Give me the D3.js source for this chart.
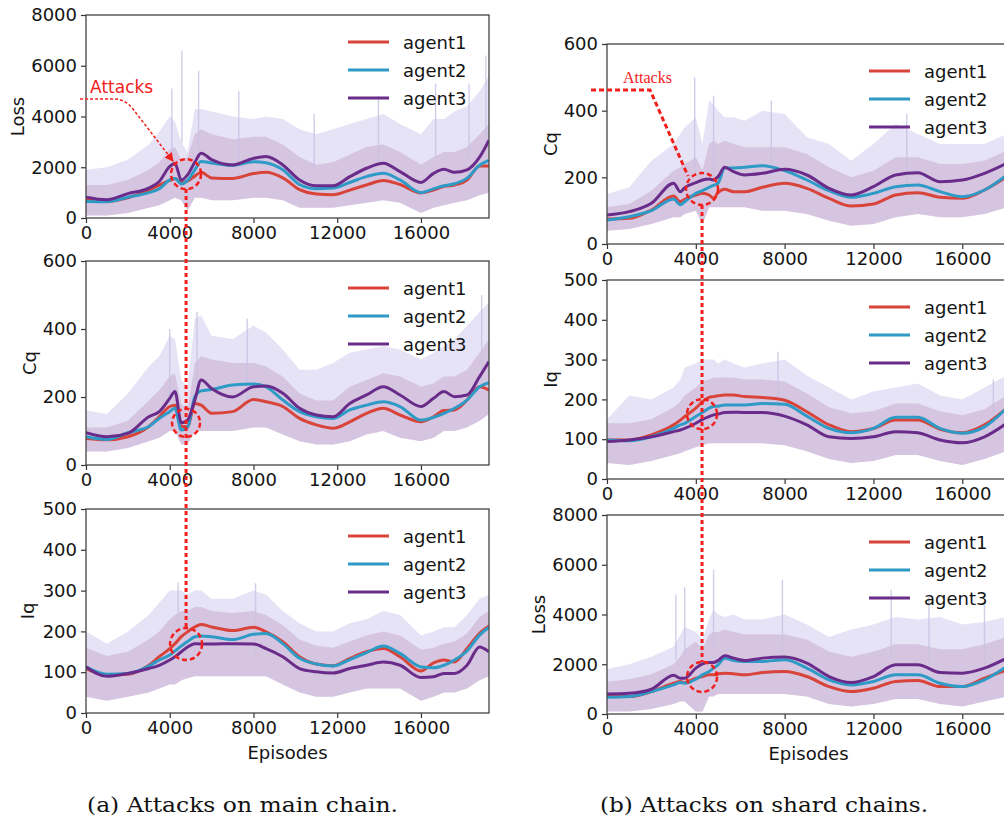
<!DOCTYPE html>
<html>
<head>
<meta charset="utf-8">
<script src="https://cdn.jsdelivr.net/npm/d3@7"></script>
<style>
  body { margin: 0; background: #fff; }
  svg { display: block; font-family: "DejaVu Sans", sans-serif; }
</style>
</head>
<body>
<svg id="chart" width="1004" height="822"></svg>
<script>
// ---------- data ----------

const AGENTS = ["agent1", "agent2", "agent3"];
const X_TICKS = [0, 4000, 8000, 12000, 16000];

// (a) attacks on main chain
const EP_MAIN = [0, 1000, 2000, 3000, 3500, 4000, 4250, 4550, 4850, 5200, 5500, 6000, 7000, 8000, 8600,
  9400, 10200, 11000, 11800, 12600, 13400, 14200, 15000, 16000, 16600, 17100, 17600, 18200, 18800, 19250];

const mainLoss1 = [720, 660, 800, 1100, 1300, 1480, 1560, 1400, 1450, 1650, 1800, 1580, 1560, 1750, 1800,
  1580, 1120, 950, 920, 1100, 1300, 1480, 1320, 990, 1100, 1250, 1300, 1500, 2050, 2050];
const mainLoss2 = [650, 640, 820, 1000, 1150, 1500, 1560, 1340, 1480, 1900, 2230, 2170, 2080, 2220, 2180,
  1900, 1320, 1150, 1180, 1400, 1630, 1760, 1500, 1000, 1150, 1270, 1350, 1570, 2080, 2270];
const mainLoss3 = [820, 720, 960, 1180, 1440, 2030, 2150, 1500, 1700, 2200, 2550, 2300, 2090, 2350, 2420,
  2090, 1500, 1270, 1270, 1630, 1960, 2160, 1830, 1400, 1760, 1920, 1800, 1900, 2400, 3070];
const mainLossHi = [1900, 2000, 2300, 2900, 3400, 4000, 3800, 3000, 2600, 4300, 4300, 4200, 4000, 3900, 4000,
  3900, 3500, 3300, 3500, 3700, 3900, 4100, 3700, 3300, 3900, 3900, 4200, 4400, 5000, 5600];
const mainLossMid = [1300, 1300, 1500, 1900, 2200, 2700, 2800, 2300, 2400, 3300, 3500, 3300, 3100, 3200, 3200,
  2900, 2400, 2100, 2200, 2500, 2800, 2900, 2600, 2100, 2400, 2600, 2600, 2800, 3300, 3700];
const mainLossLo = [100, 100, 200, 400, 500, 700, 800, 700, 300, 800, 800, 700, 700, 800, 800,
  700, 400, 400, 400, 500, 600, 700, 600, 200, 400, 500, 600, 700, 900, 1000];
const mainLossSpikes = [[4100, 5100], [4580, 6600], [5380, 5800], [7300, 5000], [10900, 4100],
  [13970, 4800], [16700, 5300], [18300, 5300], [19100, 6400]];

const mainCq1 = [78, 74, 83, 113, 142, 172, 176, 113, 113, 181, 176, 152, 157, 193, 186,
  172, 137, 118, 108, 127, 152, 167, 147, 127, 142, 160, 162, 191, 230, 220];
const mainCq2 = [83, 75, 95, 113, 137, 157, 167, 103, 111, 201, 218, 222, 235, 238, 230,
  191, 157, 142, 137, 162, 176, 186, 172, 132, 140, 152, 167, 191, 230, 242];
const mainCq3 = [95, 83, 93, 142, 157, 196, 216, 124, 132, 191, 250, 225, 200, 230, 232,
  211, 167, 147, 142, 181, 206, 230, 206, 172, 196, 216, 201, 206, 260, 304];
const mainCqHi = [160, 150, 210, 290, 320, 380, 370, 250, 230, 430, 440, 380, 370, 410, 390,
  340, 280, 280, 300, 330, 340, 350, 340, 310, 330, 350, 370, 410, 450, 480];
const mainCqMid = [110, 110, 130, 190, 220, 260, 270, 180, 160, 300, 320, 310, 300, 300, 290,
  260, 210, 190, 190, 230, 250, 270, 260, 230, 240, 260, 260, 280, 330, 370];
const mainCqLo = [40, 40, 50, 70, 80, 100, 100, 60, 60, 100, 100, 100, 100, 110, 110,
  90, 70, 60, 60, 70, 90, 100, 80, 70, 80, 100, 100, 110, 130, 150];
const mainCqSpikes = [[4000, 400], [5300, 450], [7700, 430], [18900, 500]];

const mainIq1 = [109, 93, 95, 117, 138, 158, 170, 187, 199, 211, 217, 211, 202, 210, 199,
  175, 138, 120, 116, 134, 150, 158, 138, 103, 123, 130, 125, 158, 195, 213];
const mainIq2 = [113, 95, 97, 115, 130, 142, 152, 164, 175, 187, 189, 187, 180, 193, 195,
  170, 134, 120, 115, 131, 148, 164, 146, 113, 111, 117, 130, 152, 191, 210];
const mainIq3 = [113, 90, 97, 109, 117, 130, 138, 150, 162, 170, 169, 169, 170, 169, 158,
  138, 109, 101, 98, 109, 117, 125, 117, 87, 89, 97, 97, 117, 162, 150];
const mainIqHi = [200, 170, 200, 240, 270, 300, 300, 300, 290, 300, 300, 280, 280, 300, 290,
  250, 220, 200, 200, 220, 230, 250, 240, 190, 200, 210, 210, 240, 280, 290];
const mainIqMid = [160, 140, 150, 180, 200, 230, 240, 250, 250, 260, 260, 250, 245, 250, 240,
  215, 180, 165, 160, 175, 190, 200, 190, 155, 160, 170, 175, 195, 235, 250];
const mainIqLo = [40, 30, 40, 50, 60, 70, 70, 80, 85, 90, 90, 90, 90, 90, 90,
  70, 50, 40, 40, 50, 60, 60, 60, 30, 40, 50, 50, 60, 80, 90];
const mainIqSpikes = [[4400, 320], [8100, 318]];

// (b) attacks on shard chains
const EP_SHARD = [0, 1000, 2000, 3000, 3300, 3500, 4000, 4300, 4600, 4800, 5000, 5300, 5700, 6200, 7000,
  8000, 9000, 10000, 11000, 12000, 13000, 14000, 15000, 16000, 17000, 18000];

const shardCq1 = [75, 77, 102, 144, 127, 134, 147, 152, 147, 137, 154, 164, 157, 157, 170,
  182, 167, 137, 114, 120, 147, 154, 140, 137, 162, 202];
const shardCq2 = [72, 82, 100, 135, 118, 127, 152, 160, 170, 176, 182, 228, 228, 230, 235,
  220, 192, 160, 140, 152, 172, 177, 157, 142, 162, 207];
const shardCq3 = [87, 97, 122, 182, 157, 169, 184, 192, 195, 192, 202, 230, 217, 207, 212,
  224, 207, 167, 147, 172, 207, 214, 187, 192, 212, 242];
const shardCqHi = [150, 170, 250, 300, 330, 350, 380, 300, 430, 420, 400, 380, 380, 370, 400,
  390, 320, 300, 250, 300, 360, 330, 300, 300, 300, 330];
const shardCqMid = [110, 120, 160, 220, 230, 240, 260, 220, 300, 310, 300, 310, 300, 290, 290,
  290, 270, 230, 200, 220, 260, 260, 240, 240, 250, 280];
const shardCqLo = [40, 45, 60, 80, 80, 90, 100, 60, 110, 110, 110, 110, 110, 110, 100,
  100, 90, 70, 55, 60, 80, 90, 80, 80, 90, 110];
const shardCqSpikes = [[3950, 500], [4800, 445], [7400, 430], [13500, 390]];

const shardIq1 = [98, 98, 111, 136, 148, 157, 178, 194, 205, 207, 209, 211, 211, 207, 205,
  198, 169, 136, 119, 127, 148, 148, 125, 116, 136, 178];
const shardIq2 = [98, 96, 106, 127, 136, 140, 157, 167, 178, 182, 183, 186, 186, 186, 190,
  188, 158, 127, 116, 127, 155, 155, 127, 115, 131, 178];
const shardIq3 = [94, 98, 106, 119, 123, 127, 140, 150, 157, 161, 163, 167, 168, 167, 167,
  158, 136, 106, 102, 106, 119, 116, 98, 91, 106, 140];
const shardIqHi = [150, 210, 200, 230, 250, 280, 290, 300, 300, 300, 290, 300, 290, 280, 290,
  300, 260, 230, 200, 220, 230, 240, 210, 200, 230, 260];
const shardIqMid = [140, 140, 150, 180, 195, 210, 230, 245, 250, 255, 255, 255, 255, 250, 250,
  245, 215, 180, 165, 170, 190, 190, 170, 160, 175, 210];
const shardIqLo = [40, 35, 45, 60, 65, 70, 80, 85, 90, 90, 90, 90, 90, 90, 90,
  85, 70, 50, 40, 45, 60, 60, 45, 35, 50, 70];
const shardIqSpikes = [[7700, 320], [17400, 250]];

const shardLoss1 = [726, 700, 901, 1237, 1305, 1264, 1439, 1506, 1574, 1574, 1614, 1641, 1614, 1574, 1668,
  1708, 1506, 1103, 901, 1036, 1305, 1345, 1103, 1103, 1439, 1775];
const shardLoss2 = [672, 700, 901, 1170, 1264, 1237, 1399, 1574, 1708, 1843, 1977, 2246, 2152, 2112, 2112,
  2179, 1843, 1372, 1170, 1305, 1574, 1574, 1237, 1103, 1372, 1910];
const shardLoss3 = [807, 834, 995, 1560, 1440, 1440, 1843, 2018, 2071, 2071, 2152, 2340, 2246, 2152, 2246,
  2287, 2044, 1506, 1264, 1506, 1977, 1977, 1668, 1641, 1843, 2246];
const shardLossHi = [1800, 2000, 2300, 2700, 3200, 3500, 3300, 3000, 3800, 4200, 4000, 3900, 4000, 3800, 3800,
  4000, 3600, 3100, 3400, 3600, 3900, 3800, 3900, 3600, 3700, 3900];
const shardLossMid = [1300, 1400, 1600, 2000, 2300, 2600, 2900, 2600, 3200, 3300, 3300, 3400, 3300, 3200, 3200,
  3200, 3000, 2500, 2300, 2500, 2800, 2800, 2600, 2600, 2800, 3100];
const shardLossLo = [100, 100, 200, 400, 500, 500, 100, 100, 700, 700, 800, 800, 800, 800, 800,
  800, 700, 400, 300, 400, 600, 600, 400, 300, 500, 700];
const shardLossSpikes = [[3100, 4800], [3500, 5100], [4800, 5800], [7900, 5400], [12800, 5000],
  [14500, 4700], [17000, 4400]];

// attack markers: episode and the value at each circled point
const mainAttackEp = 4780;
const mainAttackVals = [1730, 124, 169];
const shardAttackEp = 4280;
const shardAttackVals = [165, 163, 1490];

// ---------- styling / layout ----------

const COLORS = ["#d8433a", "#2e9ac6", "#6a2c8a"];
const RED = "#f2201c";

const LEFT = { left: 86, right: 489, xMax: 19250 };
const RIGHT = { left: 607, right: 1010, xMax: 18150 };

const panels = [
  { col: LEFT, top: 15, bottom: 218, ep: EP_MAIN, lines: [mainLoss1, mainLoss2, mainLoss3],
    hi: mainLossHi, mid: mainLossMid, lo: mainLossLo, spikes: mainLossSpikes,
    yMax: 8000, yStep: 2000, label: "Loss", labelX: 17 },
  { col: LEFT, top: 261, bottom: 465, ep: EP_MAIN, lines: [mainCq1, mainCq2, mainCq3],
    hi: mainCqHi, mid: mainCqMid, lo: mainCqLo, spikes: mainCqSpikes,
    yMax: 600, yStep: 200, label: "Cq", labelX: 29 },
  { col: LEFT, top: 509, bottom: 713, ep: EP_MAIN, lines: [mainIq1, mainIq2, mainIq3],
    hi: mainIqHi, mid: mainIqMid, lo: mainIqLo, spikes: mainIqSpikes,
    yMax: 500, yStep: 100, label: "Iq", labelX: 27, xlabel: true },
  { col: RIGHT, top: 44, bottom: 244, ep: EP_SHARD, lines: [shardCq1, shardCq2, shardCq3],
    hi: shardCqHi, mid: shardCqMid, lo: shardCqLo, spikes: shardCqSpikes,
    yMax: 600, yStep: 200, label: "Cq", labelX: 550 },
  { col: RIGHT, top: 280, bottom: 479, ep: EP_SHARD, lines: [shardIq1, shardIq2, shardIq3],
    hi: shardIqHi, mid: shardIqMid, lo: shardIqLo, spikes: shardIqSpikes,
    yMax: 500, yStep: 100, label: "Iq", labelX: 550 },
  { col: RIGHT, top: 515, bottom: 714, ep: EP_SHARD, lines: [shardLoss1, shardLoss2, shardLoss3],
    hi: shardLossHi, mid: shardLossMid, lo: shardLossLo, spikes: shardLossSpikes,
    yMax: 8000, yStep: 2000, label: "Loss", labelX: 538, xlabel: true },
];

const svg = d3.select("#chart");
const defs = svg.append("defs");

defs.append("marker")
  .attr("id", "arrow")
  .attr("viewBox", "0 0 10 10")
  .attr("refX", 9).attr("refY", 5)
  .attr("markerWidth", 6).attr("markerHeight", 6)
  .attr("orient", "auto")
  .append("path")
  .attr("d", "M0,0 L10,5 L0,10 z")
  .attr("fill", RED);

// ---------- panels ----------

function drawPanel(p, i) {
  const c = p.col;
  const x = d3.scaleLinear().domain([0, c.xMax]).range([c.left, c.right]);
  const y = d3.scaleLinear().domain([0, p.yMax]).range([p.bottom, p.top]);
  p.x = x;
  p.y = y;

  const g = svg.append("g");
  const clipId = "clip" + i;
  defs.append("clipPath").attr("id", clipId)
    .append("rect")
    .attr("x", c.left).attr("y", p.top)
    .attr("width", c.right - c.left).attr("height", p.bottom - p.top);

  const plot = g.append("g").attr("clip-path", `url(#${clipId})`);
  const rows = p.ep.map((e, k) => ({ e, hi: p.hi[k], mid: p.mid[k], lo: p.lo[k] }));

  // raw (unsmoothed) noise: outer spread + dense core
  plot.append("path").datum(rows)
    .attr("d", d3.area().x((d) => x(d.e)).y0((d) => y(d.lo)).y1((d) => y(d.hi)))
    .attr("fill", "rgb(190,185,230)").attr("fill-opacity", 0.4);
  plot.append("path").datum(rows)
    .attr("d", d3.area().x((d) => x(d.e)).y0((d) => y(d.lo)).y1((d) => y(d.mid)))
    .attr("fill", "rgb(185,140,185)").attr("fill-opacity", 0.35);

  plot.selectAll("line.spike").data(p.spikes).join("line")
    .attr("class", "spike")
    .attr("x1", (d) => x(d[0])).attr("x2", (d) => x(d[0]))
    .attr("y1", (d) => y(d[1])).attr("y2", (d) => y(d[1] * 0.45))
    .attr("stroke", "rgb(200,192,228)").attr("stroke-width", 1.4).attr("stroke-opacity", 0.8);

  // smoothed agent curves
  const line = d3.line().x((d) => x(d[0])).y((d) => y(d[1])).curve(d3.curveMonotoneX);
  p.lines.forEach((vals, k) => {
    plot.append("path")
      .datum(p.ep.map((e, j) => [e, vals[j]]))
      .attr("d", line)
      .attr("fill", "none")
      .attr("stroke", COLORS[k])
      .attr("stroke-width", 3)
      .attr("stroke-linejoin", "round");
  });

  // axes
  const xa = g.append("g")
    .attr("transform", `translate(0,${p.bottom})`)
    .call(d3.axisBottom(x).tickValues(X_TICKS).tickFormat(d3.format("d"))
      .tickSize(5).tickSizeOuter(0).tickPadding(3));
  const ya = g.append("g")
    .attr("transform", `translate(${c.left},0)`)
    .call(d3.axisLeft(y).tickValues(d3.range(0, p.yMax + 1, p.yStep)).tickFormat(d3.format("d"))
      .tickSize(5).tickSizeOuter(0).tickPadding(4));
  [xa, ya].forEach((a) => {
    a.select(".domain").remove();
    a.selectAll(".tick line").attr("stroke", "#333").attr("stroke-width", 1.2);
    a.selectAll(".tick text")
      .attr("font-size", 18)
      .attr("font-family", "DejaVu Sans, sans-serif")
      .attr("fill", "#141414");
  });

  g.append("rect")
    .attr("x", c.left).attr("y", p.top)
    .attr("width", c.right - c.left).attr("height", p.bottom - p.top)
    .attr("fill", "none").attr("stroke", "#444").attr("stroke-width", 1.3);

  // y label
  g.append("text")
    .attr("transform", `translate(${p.labelX},${(p.top + p.bottom) / 2}) rotate(-90)`)
    .attr("text-anchor", "middle")
    .attr("dominant-baseline", "central")
    .attr("font-size", 18)
    .attr("fill", "#141414")
    .text(p.label);

  if (p.xlabel) {
    g.append("text")
      .attr("x", (c.left + c.right) / 2)
      .attr("y", p.bottom + 46)
      .attr("text-anchor", "middle")
      .attr("font-size", 18)
      .attr("fill", "#141414")
      .text("Episodes");
  }

  // legend
  const leg = g.append("g");
  AGENTS.forEach((name, k) => {
    const ly = p.top + 27 + k * 28;
    leg.append("line")
      .attr("x1", c.right - 141).attr("x2", c.right - 100)
      .attr("y1", ly).attr("y2", ly)
      .attr("stroke", COLORS[k]).attr("stroke-width", 3);
    leg.append("text")
      .attr("x", c.right - 86).attr("y", ly)
      .attr("dominant-baseline", "central")
      .attr("font-size", 18)
      .attr("fill", "#141414")
      .text(name);
  });
}

panels.forEach(drawPanel);

// ---------- attack annotations ----------

const ann = svg.append("g");

function attackCircles(group, ep, vals, r) {
  const pts = group.map((p, k) => ({ cx: p.x(ep), cy: p.y(vals[k]), r: r[k] }));
  const first = pts[0];
  const last = pts[pts.length - 1];
  ann.append("line")
    .attr("x1", first.cx).attr("x2", last.cx)
    .attr("y1", first.cy + first.r).attr("y2", last.cy - last.r)
    .attr("stroke", RED).attr("stroke-width", 3).attr("stroke-dasharray", "4,3");
  ann.selectAll(null).data(pts).join("circle")
    .attr("cx", (d) => d.cx).attr("cy", (d) => d.cy).attr("r", (d) => d.r)
    .attr("fill", "none").attr("stroke", RED)
    .attr("stroke-width", 2.5).attr("stroke-dasharray", "5,3");
  return first;
}

// (a) main chain
const a0 = attackCircles(panels.slice(0, 3), mainAttackEp, mainAttackVals, [15, 14, 16]);
ann.append("text")
  .attr("x", a0.cx - 96).attr("y", a0.cy - 81)
  .attr("font-size", 17)
  .attr("fill", RED)
  .text("Attacks");
ann.append("path")
  .attr("d", `M${a0.cx - 106},${a0.cy - 75} L${a0.cx - 71},${a0.cy - 75}` +
    ` Q${a0.cx - 61},${a0.cy - 75} ${a0.cx - 53},${a0.cy - 65} L${a0.cx - 13},${a0.cy - 13}`)
  .attr("fill", "none").attr("stroke", RED)
  .attr("stroke-width", 1.5).attr("stroke-dasharray", "3,2")
  .attr("marker-end", "url(#arrow)");

// (b) shard chains
const b0 = attackCircles(panels.slice(3, 6), shardAttackEp, shardAttackVals, [16, 15, 15]);
ann.append("text")
  .attr("x", b0.cx - 79).attr("y", b0.cy - 106)
  .attr("font-size", 16)
  .style("font-family", "'Liberation Serif', serif")
  .attr("fill", RED)
  .text("Attacks");
ann.append("path")
  .attr("d", `M${b0.cx - 111},${b0.cy - 99} L${b0.cx - 52},${b0.cy - 99} L${b0.cx - 14},${b0.cy - 13}`)
  .attr("fill", "none").attr("stroke", RED)
  .attr("stroke-width", 3).attr("stroke-dasharray", "5,3");

// ---------- captions ----------

svg.append("text")
  .attr("x", 87).attr("y", 812)
  .style("font-family", "'DejaVu Serif', serif")
  .attr("font-size", 21)
  .attr("textLength", 311).attr("lengthAdjust", "spacingAndGlyphs")
  .attr("fill", "#111")
  .text("(a) Attacks on main chain.");

svg.append("text")
  .attr("x", 600).attr("y", 812)
  .style("font-family", "'DejaVu Serif', serif")
  .attr("font-size", 21)
  .attr("textLength", 328).attr("lengthAdjust", "spacingAndGlyphs")
  .attr("fill", "#111")
  .text("(b) Attacks on shard chains.");
</script>
</body>
</html>
